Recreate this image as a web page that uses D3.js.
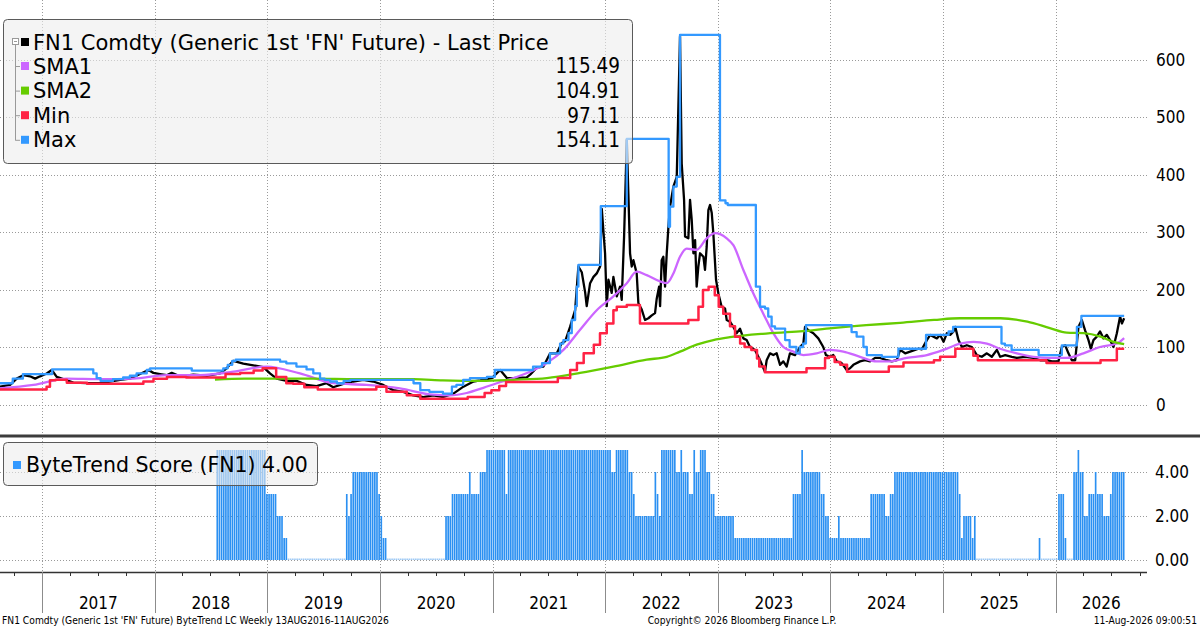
<!DOCTYPE html>
<html>
<head>
<meta charset="utf-8">
<script src="https://cdn.jsdelivr.net/npm/d3@7"></script>
<style>
  body { margin: 0; background: #fff; }
  svg { display: block; }
  text { font-family: "DejaVu Sans", sans-serif; font-stretch: condensed; fill: #000; }
  text.wide { font-stretch: normal; }
</style>
</head>
<body>
<svg id="chart" width="1200" height="627"></svg>
<script>
// weekly last price as [decimal year, value]
var price = [
  [2016.627,31],[2016.716,34],[2016.775,45],[2016.834,51],[2016.893,49],[2016.938,45],[2016.982,49],
  [2017.041,54],[2017.086,60],[2017.130,48],[2017.189,44],[2017.278,38],[2017.397,37],[2017.515,37],
  [2017.604,40],[2017.693,43],[2017.782,45],[2017.870,53],[2017.944,60],[2017.989,55],[2018.048,53],
  [2018.107,51],[2018.152,55],[2018.226,49],[2018.344,52],[2018.463,50],[2018.581,54],[2018.640,63],
  [2018.699,76],[2018.788,71],[2018.877,68],[2018.966,65],[2019.025,54],[2019.084,45],[2019.173,41],
  [2019.262,41],[2019.351,34],[2019.439,32],[2019.528,37],[2019.587,30],[2019.676,36],[2019.765,40],
  [2019.854,43],[2019.943,40],[2020.031,34],[2020.120,25],[2020.209,22],[2020.298,16],[2020.387,13],
  [2020.475,16],[2020.564,13],[2020.653,19],[2020.742,31],[2020.831,40],[2020.890,42],[2020.994,46],
  [2021.068,60],[2021.127,46],[2021.186,46],[2021.304,47],[2021.334,52],[2021.393,64],[2021.452,66],
  [2021.512,89],[2021.571,89],[2021.615,107],[2021.645,110],[2021.689,135],[2021.734,164],[2021.763,240],
  [2021.793,230],[2021.823,195],[2021.837,171],[2021.867,211],[2021.897,222],[2021.926,228],[2021.956,240],
  [2021.971,340],[2022.000,263],[2022.015,171],[2022.030,217],[2022.059,194],[2022.074,222],[2022.104,188],
  [2022.133,205],[2022.148,182],[2022.169,292],[2022.184,396],[2022.193,460],[2022.207,367],[2022.222,263],
  [2022.237,240],[2022.252,251],[2022.281,228],[2022.296,176],[2022.326,165],[2022.355,147],[2022.385,150],
  [2022.415,155],[2022.444,159],[2022.459,184],[2022.480,205],[2022.489,171],[2022.503,251],[2022.518,257],
  [2022.533,205],[2022.548,263],[2022.563,309],[2022.577,344],[2022.607,379],[2022.637,396],[2022.666,640],
  [2022.681,419],[2022.702,356],[2022.711,292],[2022.740,289],[2022.755,356],[2022.770,321],[2022.785,263],
  [2022.800,286],[2022.814,205],[2022.829,240],[2022.844,263],[2022.874,257],[2022.888,234],[2022.903,274],
  [2022.918,338],[2022.933,347],[2022.948,333],[2022.962,298],[2022.986,217],[2023.007,193],[2023.036,170],
  [2023.066,167],[2023.081,147],[2023.110,144],[2023.140,135],[2023.170,124],[2023.199,132],[2023.229,115],
  [2023.258,112],[2023.288,100],[2023.332,95],[2023.377,77],[2023.421,57],[2023.436,77],[2023.466,89],
  [2023.495,86],[2023.525,89],[2023.555,69],[2023.584,75],[2023.614,66],[2023.643,89],[2023.688,86],
  [2023.732,100],[2023.762,106],[2023.777,135],[2023.806,129],[2023.851,124],[2023.895,115],[2023.939,100],
  [2023.963,86],[2023.999,83],[2024.028,86],[2024.058,75],[2024.102,72],[2024.147,60],[2024.176,63],
  [2024.206,69],[2024.265,75],[2024.309,77],[2024.354,75],[2024.398,81],[2024.443,81],[2024.502,77],
  [2024.546,75],[2024.591,77],[2024.620,95],[2024.665,89],[2024.709,92],[2024.753,95],[2024.783,97],
  [2024.813,96],[2024.857,112],[2024.887,121],[2024.916,118],[2024.946,115],[2024.975,121],[2025.005,109],
  [2025.035,124],[2025.064,121],[2025.094,127],[2025.109,135],[2025.138,112],[2025.168,100],[2025.212,103],
  [2025.257,100],[2025.301,86],[2025.345,83],[2025.390,89],[2025.434,83],[2025.479,95],[2025.508,83],
  [2025.553,86],[2025.612,83],[2025.656,81],[2025.730,83],[2025.804,81],[2025.864,77],[2025.923,77],
  [2025.967,75],[2026.026,75],[2026.056,100],[2026.086,103],[2026.115,89],[2026.145,77],[2026.175,77],
  [2026.204,135],[2026.234,147],[2026.263,129],[2026.293,112],[2026.314,97],[2026.337,112],[2026.367,118],
  [2026.396,127],[2026.426,115],[2026.456,121],[2026.485,112],[2026.515,100],[2026.545,124],[2026.574,153],
  [2026.590,141],[2026.610,150]
];

var sma1 = [
  [2016.627,28],[2016.923,34],[2017.219,45],[2017.515,44],[2017.811,45],[2018.107,51],[2018.403,51],
  [2018.699,57],[2018.995,66],[2019.291,54],[2019.587,37],[2019.883,34],[2020.179,28],[2020.475,17],
  [2020.623,16],[2020.771,20],[2020.919,29],[2021.038,37],[2021.186,46],[2021.334,57],[2021.482,72],
  [2021.630,95],[2021.778,130],[2021.926,164],[2022.074,188],[2022.193,211],[2022.281,231],[2022.370,225],
  [2022.489,214],[2022.548,211],[2022.607,228],[2022.666,257],[2022.725,271],[2022.814,269],[2022.903,289],
  [2022.977,298],[2023.081,289],[2023.140,277],[2023.229,234],[2023.318,193],[2023.406,158],[2023.495,124],
  [2023.584,100],[2023.673,92],[2023.762,86],[2023.880,89],[2023.999,95],[2024.117,92],[2024.265,83],
  [2024.413,75],[2024.531,75],[2024.679,81],[2024.857,86],[2025.005,95],[2025.153,106],[2025.271,109],
  [2025.390,106],[2025.508,97],[2025.656,89],[2025.804,83],[2025.952,81],[2026.100,81],[2026.248,89],
  [2026.396,100],[2026.545,106],[2026.610,115.49]
];

var sma2 = [
  [2018.536,43.5],[2018.800,45],[2019.400,45],[2019.800,44],[2020.300,44],[2020.560,42],[2020.900,41],
  [2021.186,43],[2021.482,46],[2021.778,55],[2022.074,66],[2022.370,78],[2022.548,83],[2022.666,92],
  [2022.814,104],[2022.962,112],[2023.110,117],[2023.400,123],[2023.730,127],[2024.020,133],[2024.320,138],
  [2024.620,142],[2024.920,147],[2025.150,150],[2025.510,150],[2025.750,144],[2025.950,133],[2026.100,125],
  [2026.250,124],[2026.400,118],[2026.515,109],[2026.610,104.91]
];

// rolling min / max, stored as change points
var minLine = [
  [2016.627,26],[2017.040,31],[2017.070,42],[2017.120,43],[2017.220,38],[2017.400,36],[2017.900,40],
  [2017.990,45],[2018.110,48],[2018.280,47],[2018.630,53],[2018.760,55],[2018.880,59],[2018.960,63],
  [2019.080,48],[2019.170,37],[2019.230,36],[2019.330,30],[2019.450,26],[2019.970,31],[2020.060,22],
  [2020.240,16],[2020.360,10],[2020.780,13],[2020.930,20],[2020.990,25],[2021.060,32],[2021.120,39],
  [2021.580,46],[2021.690,60],[2021.750,72],[2021.810,89],[2021.900,104],[2021.955,124],[2022.015,141],
  [2022.074,164],[2022.104,170],[2022.193,173],[2022.310,141],[2022.740,147],[2022.830,170],[2022.870,199],
  [2022.920,205],[2022.975,190],[2023.010,170],[2023.050,158],[2023.110,136],[2023.155,118],[2023.200,106],
  [2023.240,100],[2023.300,95],[2023.350,80],[2023.370,66],[2023.420,56],[2023.790,63],[2023.955,81],
  [2023.990,83],[2024.040,74],[2024.090,69],[2024.150,57],[2024.520,66],[2024.650,73],[2024.920,77],
  [2024.975,83],[2025.110,97],[2025.270,85],[2025.310,77],[2025.920,72],[2026.400,77],[2026.545,97.11],
  [2026.610,97.11]
];

var maxLine = [
  [2016.627,37],[2016.740,45],[2016.830,53],[2017.090,61],[2017.455,54],[2017.485,46],[2017.520,41],
  [2017.630,44],[2017.720,47],[2017.780,50],[2017.840,54],[2017.930,60],[2017.960,63],[2018.330,59],
  [2018.610,63],[2018.650,69],[2018.690,76],[2018.720,78],[2019.115,74.5],[2019.170,71.6],[2019.260,66],
  [2019.350,61],[2019.410,54],[2019.470,45],[2019.510,43],[2019.560,40],[2019.620,37],[2019.680,41],
  [2019.740,43],[2020.300,37],[2020.360,25],[2020.440,22],[2020.560,19],[2020.640,31],[2020.680,34],
  [2020.740,43],[2020.800,46],[2020.950,48],[2021.020,60],[2021.360,66],[2021.440,72],[2021.510,89],
  [2021.600,106],[2021.630,112],[2021.675,124],[2021.704,147],[2021.734,171],[2021.749,205],[2021.763,243],
  [2021.962,345],[2022.193,462],[2022.565,309],[2022.577,344],[2022.607,379],[2022.637,396],[2022.666,643],
  [2023.021,355],[2023.070,350],[2023.090,347],[2023.340,205],[2023.377,170],[2023.421,167],[2023.450,153],
  [2023.480,136],[2023.510,132],[2023.600,112],[2023.640,100],[2023.700,89],[2023.730,100],[2023.760,106],
  [2023.785,138],[2024.190,126],[2024.235,118],[2024.295,100],[2024.325,86],[2024.458,83],[2024.605,97],
  [2024.850,121],[2025.050,127],[2025.090,135],[2025.520,106],[2025.550,103],[2025.610,95],[2025.850,86],
  [2026.056,103],[2026.190,135],[2026.230,154.11],[2026.610,154.11]
];

// ByteTrend score, weekly, as [number of weeks, score] runs ending 11 Aug 2026
var scoreRuns = [
  [23,5],[5,3],[3,2],[2,1],[27,0],[1,3],[1,2],[1,3],[12,4],[1,3],[1,2],[2,1],[27,0],
  [3,2],[8,3],[1,4],[4,3],[3,4],[9,5],[1,3],[48,5],[2,4],[6,5],[2,4],[1,3],[9,2],
  [1,4],[1,3],[1,2],[7,5],[2,4],[1,5],[3,4],[2,3],[1,5],[2,4],[3,5],[2,4],[2,3],
  [9,2],[27,1],[4,3],[1,5],[8,4],[2,3],[2,2],[4,1],[1,2],[14,1],[7,3],[2,2],[2,3],
  [30,4],[1,3],[1,1],[4,2],[1,1],[1,2],[29,0],[1,1],[8,0],[3,3],[1,1],[3,0],
  [2,4],[1,5],[2,4],[2,2],[3,3],[1,4],[3,3],[3,2],[1,3],[6,4]
];

var priceTicks = [0, 100, 200, 300, 400, 500, 600];
var scoreTicks = [0, 2, 4];
var years = [2017, 2018, 2019, 2020, 2021, 2022, 2023, 2024, 2025, 2026];

var legendNames = ["SMA1", "SMA2", "Min", "Max"];
var legendValues = ["115.49", "104.91", "97.11", "154.11"];
var legendColors = ["#cc66ff", "#66cc00", "#ff2244", "#3399ff"];

function yd(v) {
  var y = Math.floor(v);
  var a = Date.UTC(y, 0, 1), b = Date.UTC(y + 1, 0, 1);
  return new Date(a + (v - y) * (b - a));
}

const width = 1200, height = 627;
const plotRight = 1147;
const svg = d3.select("#chart");

var x = d3.scaleUtc().domain([yd(2016.627), yd(2026.813)]).range([0, plotRight]);
var y = d3.scaleLinear().domain([0, 600]).range([404.5, 59.5]);
var ys = d3.scaleLinear().domain([0, 4]).range([560, 472]);

// grid
var grid = svg.append("g").attr("stroke", "#9a9a9a").attr("stroke-dasharray", "1,2");
grid.selectAll("line.v").data(years).enter().append("line")
  .attr("x1", d => Math.round(x(yd(d))) + 0.5).attr("x2", d => Math.round(x(yd(d))) + 0.5)
  .attr("y1", 0).attr("y2", 572);
grid.selectAll("line.hp").data(priceTicks).enter().append("line")
  .attr("x1", 0).attr("x2", plotRight)
  .attr("y1", d => Math.round(y(d)) + 0.5).attr("y2", d => Math.round(y(d)) + 0.5);
grid.selectAll("line.hs").data(scoreTicks).enter().append("line")
  .attr("x1", 0).attr("x2", plotRight)
  .attr("y1", d => Math.round(ys(d)) + 0.5).attr("y2", d => Math.round(ys(d)) + 0.5);

// right hand labels
svg.append("g").selectAll("text").data(priceTicks).enter().append("text")
  .attr("x", 1156).attr("y", d => y(d)).attr("dy", "0.36em")
  .style("font-size", "17px").text(d => d);
svg.append("g").selectAll("text").data(scoreTicks).enter().append("text")
  .attr("x", 1155).attr("y", d => ys(d)).attr("dy", "0.36em")
  .style("font-size", "17px").text(d => d.toFixed(2));

// price lines
var line = d3.line().x(d => x(yd(d[0]))).y(d => y(d[1]));
var stepLine = d3.line().x(d => x(yd(d[0]))).y(d => y(d[1])).curve(d3.curveStepAfter);
var smooth = d3.line().x(d => x(yd(d[0]))).y(d => y(d[1])).curve(d3.curveMonotoneX);

var lines = svg.append("g").attr("fill", "none").attr("stroke-linejoin", "round");
lines.append("path").datum(price).attr("d", line).attr("stroke", "#000").attr("stroke-width", 2.3);
lines.append("path").datum(sma1).attr("d", smooth).attr("stroke", legendColors[0]).attr("stroke-width", 2.3);
lines.append("path").datum(sma2).attr("d", smooth).attr("stroke", legendColors[1]).attr("stroke-width", 2.3);
lines.append("path").datum(minLine).attr("d", stepLine).attr("stroke", legendColors[2]).attr("stroke-width", 2.5);
lines.append("path").datum(maxLine).attr("d", stepLine).attr("stroke", legendColors[3]).attr("stroke-width", 2.3);

// score bars
var scores = [];
scoreRuns.forEach(r => { for (var i = 0; i < r[0]; i++) scores.push(r[1]); });
var lastDay = Date.UTC(2026, 7, 11);
var week = 7 * 864e5;
var barData = scores.map((s, i) => ({ date: new Date(lastDay - (scores.length - 1 - i) * week), score: s }));
var bw = x(new Date(lastDay)) - x(new Date(lastDay - week));

svg.append("g").selectAll("rect").data(barData).enter().append("rect")
  .attr("x", d => x(d.date) - bw / 2)
  .attr("width", bw - 0.5)
  .attr("y", d => d.score > 0 ? ys(d.score) : ys(0) - 1.5)
  .attr("height", d => d.score > 0 ? ys(0) - ys(d.score) : 1.5)
  .attr("fill", d => d.score > 0 ? "#2b90f2" : "#9fcaf5");

// panel separator
svg.append("rect").attr("x", 0).attr("y", 434.5).attr("width", width).attr("height", 3).attr("fill", "#3c3c3c");

// time axis
var axisG = svg.append("g");
axisG.append("line").attr("x1", 0).attr("x2", plotRight).attr("y1", 572.5).attr("y2", 572.5)
  .attr("stroke", "#333").attr("stroke-width", 1.5);
axisG.selectAll("line.q").data(x.ticks(d3.utcMonth.every(3))).enter().append("line")
  .attr("x1", d => Math.round(x(d)) + 0.5).attr("x2", d => Math.round(x(d)) + 0.5)
  .attr("y1", 572).attr("y2", 576).attr("stroke", "#333");
axisG.selectAll("line.y").data(years).enter().append("line")
  .attr("x1", d => Math.round(x(yd(d))) + 0.5).attr("x2", d => Math.round(x(yd(d))) + 0.5)
  .attr("y1", 572).attr("y2", 613).attr("stroke", "#8c8c8c");
axisG.selectAll("text").data(years).enter().append("text")
  .attr("x", d => (Math.max(0, x(yd(d))) + Math.min(plotRight, x(yd(d + 1)))) / 2)
  .attr("y", 603).attr("dy", "0.36em").attr("text-anchor", "middle")
  .style("font-size", "17px").text(d => d);

// legends
var leg = svg.append("g");
leg.append("rect").attr("x", 3.5).attr("y", 19.5).attr("width", 629).attr("height", 144).attr("rx", 4)
  .attr("fill", "#ececec").attr("fill-opacity", 0.6).attr("stroke", "#5a5a5a");
leg.append("line").attr("x1", 15.5).attr("x2", 15.5).attr("y1", 45).attr("y2", 140.5).attr("stroke", "#999");
leg.append("rect").attr("x", 12.5).attr("y", 38.5).attr("width", 6).attr("height", 6)
  .attr("fill", "#fff").attr("stroke", "#999");
leg.append("line").attr("x1", 14).attr("x2", 17).attr("y1", 41.5).attr("y2", 41.5).attr("stroke", "#999");
leg.append("rect").attr("x", 21).attr("y", 38).attr("width", 8).attr("height", 8).attr("fill", "#000");
leg.append("text").attr("class", "wide").attr("x", 33).attr("y", 42).attr("dy", "0.36em")
  .style("font-size", "21px")
  .text("FN1 Comdty (Generic 1st 'FN' Future) - Last Price");
var rows = leg.selectAll("g.row").data(legendNames).enter().append("g")
  .attr("transform", (d, i) => `translate(0, ${66 + i * 24.6})`);
rows.append("line").attr("x1", 15.5).attr("x2", 20).attr("y1", 0.5).attr("y2", 0.5).attr("stroke", "#999");
rows.append("rect").attr("x", 21).attr("y", -4).attr("width", 8).attr("height", 8)
  .attr("fill", (d, i) => legendColors[i]);
rows.append("text").attr("class", "wide").attr("x", 33).attr("dy", "0.36em")
  .style("font-size", "21px").text(d => d);
rows.append("text").attr("x", 620).attr("dy", "0.36em").attr("text-anchor", "end")
  .style("font-size", "20.5px").text((d, i) => legendValues[i]);

leg.append("rect").attr("x", 3.5).attr("y", 442.5).attr("width", 314).attr("height", 43).attr("rx", 4)
  .attr("fill", "#ececec").attr("fill-opacity", 0.6).attr("stroke", "#5a5a5a");
leg.append("rect").attr("x", 13).attr("y", 461).attr("width", 8).attr("height", 8).attr("fill", "#3399ff");
leg.append("text").attr("class", "wide").attr("x", 26).attr("y", 465).attr("dy", "0.36em")
  .style("font-size", "20.5px")
  .text("ByteTrend Score (FN1) 4.00");

// footer
var foot = svg.append("g");
foot.append("text").attr("x", 2).attr("y", 624).style("font-size", "10.2px")
  .text("FN1 Comdty (Generic 1st 'FN' Future) ByteTrend LC Weekly 13AUG2016-11AUG2026");
foot.append("text").attr("x", 742).attr("y", 624).attr("text-anchor", "middle").style("font-size", "10.2px")
  .text("Copyright\u00a9 2026 Bloomberg Finance L.P.");
foot.append("text").attr("x", 1197).attr("y", 624).attr("text-anchor", "end").style("font-size", "10.2px")
  .text("11-Aug-2026 09:00:51");
</script>
</body>
</html>
